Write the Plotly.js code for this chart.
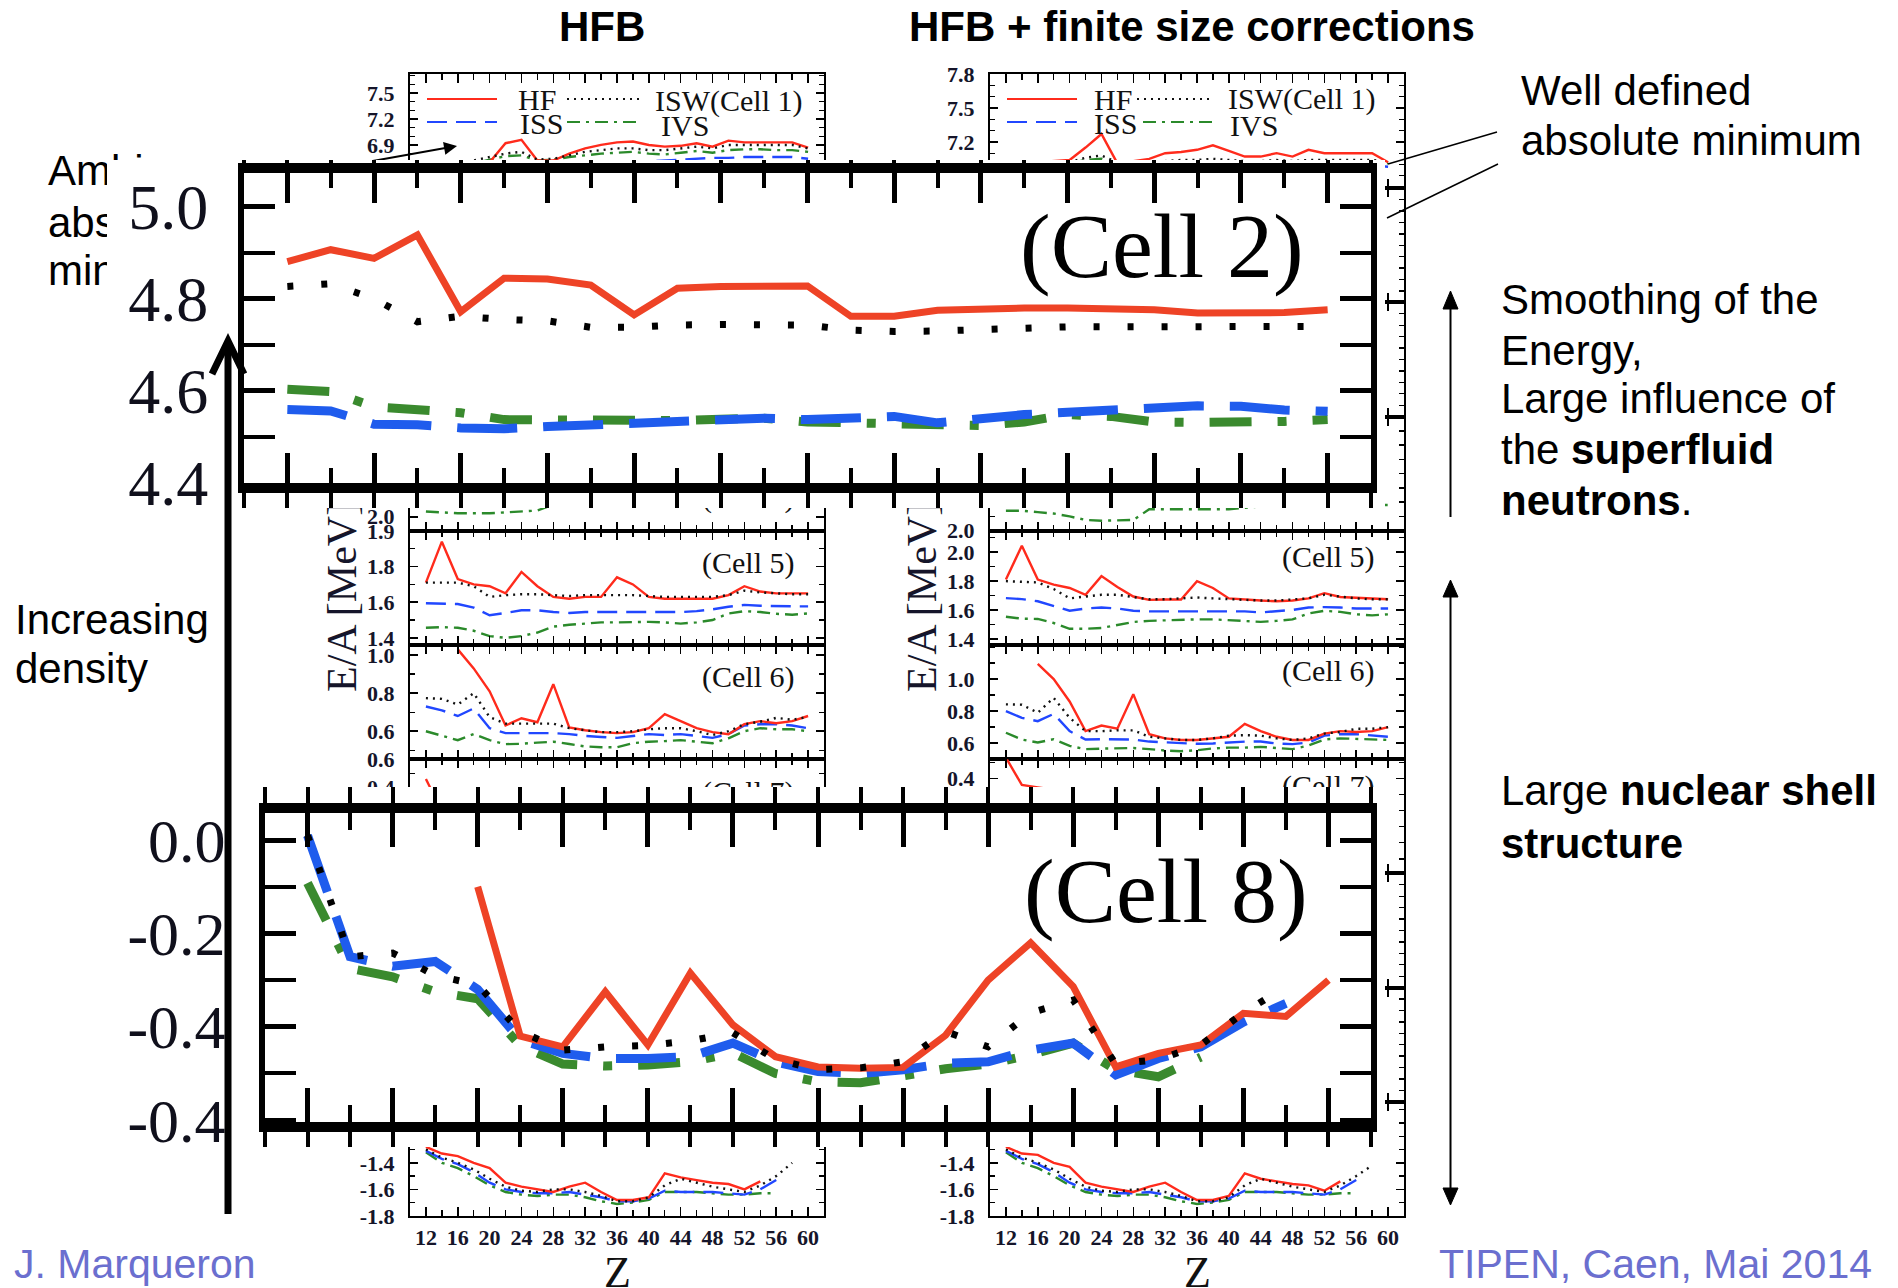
<!DOCTYPE html>
<html><head><meta charset="utf-8">
<script src="https://cdn.plot.ly/plotly-3.0.1.min.js"></script>
<style>
html,body{margin:0;padding:0;background:#fff;}
#stage{position:relative;width:1898px;height:1288px;overflow:hidden;background:#fff;}
.layer{position:absolute;}
</style></head><body>
<div id="stage">
 <div id="base" class="layer" style="left:0;top:0;width:1898px;height:1288px;z-index:1"></div>
 <div id="cell2" class="layer" style="left:107px;top:160px;width:1278px;height:348px;z-index:2"></div>
 <div id="cell8" class="layer" style="left:110px;top:787px;width:1275px;height:360px;z-index:3"></div>
 <div id="top" class="layer" style="left:0;top:0;width:1898px;height:1288px;z-index:4;pointer-events:none"></div>
</div>
<script>
// ---------------- DATA ----------------
const Z = [12,14,16,18,20,22,24,26,28,30,32,34,36,38,40,42,44,46,48,50,52,54,56,58,60];
const seriesNames = ['HF','ISW','ISS','IVS'];

// HFB column (left)
const hfbC1_HF  = [6.55,6.58,6.62,6.64,6.70,6.92,6.96,6.72,6.72,6.80,6.86,6.90,6.93,6.94,6.90,6.88,6.89,6.92,6.88,6.95,6.93,6.93,6.93,6.93,6.87];
const hfbC1_ISW = [6.62,6.65,6.68,6.72,6.76,6.80,6.82,6.73,6.74,6.78,6.82,6.84,6.86,6.86,6.84,6.84,6.86,6.88,6.86,6.90,6.90,6.90,6.90,6.90,6.86];
const hfbC1_ISS = [6.50,6.53,6.56,6.58,6.60,6.62,6.63,6.60,6.62,6.65,6.68,6.69,6.70,6.71,6.71,6.72,6.73,6.74,6.75,6.75,6.76,6.76,6.76,6.76,6.74];
const hfbC1_IVS = [6.58,6.62,6.65,6.68,6.73,6.77,6.78,6.72,6.73,6.76,6.78,6.80,6.81,6.82,6.80,6.79,6.81,6.83,6.81,6.84,6.85,6.85,6.84,6.84,6.82];

const hfbC2_HF  = [4.881,4.907,4.888,4.939,4.772,4.845,4.843,4.830,4.765,4.823,4.827,4.828,4.828,4.762,4.762,4.775,4.778,4.780,4.780,4.778,4.776,4.769,4.769,4.770,4.776];
const hfbC2_ISW = [4.827,4.833,4.800,4.750,4.762,4.755,4.752,4.738,4.738,4.743,4.744,4.745,4.743,4.732,4.729,4.730,4.733,4.737,4.739,4.739,4.739,4.738,4.738,4.739,4.740];
const hfbC2_ISS = [4.559,4.556,4.527,4.526,4.519,4.517,4.522,4.526,4.530,4.535,4.538,4.540,4.537,4.540,4.544,4.530,4.540,4.548,4.553,4.558,4.562,4.567,4.566,4.558,4.555];
const hfbC2_IVS = [4.603,4.598,4.565,4.560,4.552,4.537,4.536,4.534,4.532,4.535,4.538,4.540,4.532,4.530,4.530,4.528,4.524,4.532,4.548,4.544,4.532,4.531,4.531,4.533,4.537];

const hfbC4_IVS = [2.03,2.025,2.02,2.02,2.02,2.025,2.03,2.035,2.07,2.09,2.10,2.10,2.11,2.11,2.11,2.12,2.12,2.12,2.12,2.12,2.13,2.13,2.13,2.13,2.13];

const hfbC5_HF  = [1.71,1.94,1.73,1.70,1.69,1.65,1.77,1.69,1.63,1.62,1.63,1.63,1.74,1.70,1.63,1.62,1.62,1.62,1.62,1.64,1.69,1.66,1.65,1.65,1.65];
const hfbC5_ISW = [1.71,1.71,1.71,1.69,1.63,1.64,1.645,1.645,1.64,1.635,1.64,1.64,1.64,1.64,1.635,1.63,1.63,1.63,1.63,1.64,1.665,1.655,1.65,1.645,1.645];
const hfbC5_ISS = [1.594,1.594,1.59,1.57,1.527,1.54,1.555,1.555,1.545,1.54,1.545,1.545,1.545,1.545,1.545,1.545,1.545,1.55,1.56,1.575,1.585,1.58,1.577,1.577,1.577];
const hfbC5_IVS = [1.457,1.46,1.457,1.44,1.41,1.40,1.41,1.43,1.463,1.474,1.48,1.487,1.487,1.49,1.49,1.487,1.48,1.487,1.50,1.537,1.55,1.545,1.535,1.53,1.537];

const hfbC6_HF  = [null,null,1.03,0.93,0.81,0.63,0.668,0.647,0.847,0.62,0.605,0.595,0.59,0.595,0.616,0.69,0.653,0.616,0.595,0.584,0.637,0.653,0.642,0.653,0.68];
const hfbC6_ISW = [0.774,0.77,0.74,0.80,0.674,0.64,0.64,0.64,0.64,0.616,0.605,0.595,0.595,0.60,0.61,0.616,0.616,0.60,0.58,0.60,0.637,0.65,0.67,0.66,0.675];
const hfbC6_ISS = [0.73,0.71,0.68,0.72,0.616,0.59,0.59,0.59,0.59,0.585,0.575,0.57,0.565,0.575,0.585,0.58,0.585,0.575,0.565,0.585,0.63,0.637,0.637,0.63,0.616];
const hfbC6_IVS = [0.60,0.575,0.553,0.585,0.553,0.532,0.534,0.54,0.545,0.533,0.52,0.516,0.516,0.537,0.545,0.548,0.553,0.545,0.537,0.563,0.60,0.616,0.61,0.61,0.60];

const hfbC7_HF  = [0.46,0.23,null,null,null,null,null,null,null,null,null,null,null,null,null,null,null,null,null,null,null,null,null,null,null];

const hfbC8_HF  = [null,null,null,null,-0.10,-0.42,-0.443,-0.325,-0.439,-0.285,-0.396,-0.464,-0.486,-0.489,-0.487,-0.418,-0.30,-0.22,-0.314,-0.486,-0.457,-0.439,-0.371,-0.378,-0.30];
const hfbC8_ISW = [0.01,-0.25,-0.242,-0.29,-0.31,-0.41,-0.45,-0.443,-0.44,-0.43,-0.413,-0.47,-0.492,-0.488,-0.475,-0.41,-0.443,-0.37,-0.343,-0.48,-0.47,-0.439,-0.37,-0.314,null];
const hfbC8_ISS = [0.01,-0.25,-0.27,-0.26,-0.32,-0.428,-0.457,-0.468,-0.468,-0.464,-0.435,-0.475,-0.496,-0.50,-0.492,-0.478,-0.475,-0.45,-0.435,-0.503,-0.468,-0.443,-0.39,-0.35,null];
const hfbC8_IVS = [-0.092,-0.275,-0.293,-0.325,-0.34,-0.44,-0.48,-0.484,-0.482,-0.475,-0.456,-0.50,-0.518,-0.52,-0.505,-0.49,-0.48,-0.46,-0.435,-0.492,-0.507,-0.465,null,null,null];

const hfbC10_HF  = [-1.28,-1.33,-1.35,-1.40,-1.44,-1.55,-1.58,-1.60,-1.62,-1.58,-1.55,-1.62,-1.68,-1.68,-1.66,-1.48,-1.51,-1.53,-1.55,-1.56,-1.60,-1.54,null,null,null];
const hfbC10_ISW = [-1.30,-1.36,-1.40,-1.45,-1.52,-1.58,-1.61,-1.62,-1.60,-1.60,-1.62,-1.65,-1.69,-1.69,-1.66,-1.57,-1.52,-1.55,-1.58,-1.60,-1.62,-1.57,-1.50,-1.40,null];
const hfbC10_ISS = [-1.31,-1.37,-1.41,-1.47,-1.55,-1.60,-1.62,-1.63,-1.63,-1.62,-1.64,-1.66,-1.69,-1.69,-1.67,-1.61,-1.62,-1.62,-1.62,-1.63,-1.64,-1.60,-1.53,null,null];
const hfbC10_IVS = [-1.32,-1.40,-1.44,-1.50,-1.57,-1.62,-1.64,-1.65,-1.64,-1.64,-1.66,-1.69,-1.71,-1.70,-1.68,-1.62,-1.62,-1.62,-1.63,-1.64,-1.64,-1.63,-1.63,null,null];

// HFB + finite size corrections column (right)
const fscC1_HF  = [7.00,7.01,7.02,7.03,7.04,7.15,7.27,7.01,7.03,7.05,7.10,7.11,7.13,7.17,7.12,7.07,7.07,7.10,7.07,7.13,7.10,7.10,7.10,7.10,7.02];
const fscC1_ISW = [6.98,6.99,7.00,7.01,7.02,7.06,7.08,7.02,7.01,7.02,7.03,7.04,7.04,7.05,7.04,7.03,7.03,7.04,7.03,7.04,7.04,7.04,7.04,7.04,7.02];
const fscC1_ISS = [6.93,6.94,6.95,6.95,6.96,6.97,6.98,6.95,6.95,6.96,6.97,6.97,6.98,6.98,6.98,6.98,6.98,6.99,6.99,6.99,6.99,6.99,6.99,6.99,6.98];
const fscC1_IVS = [6.97,6.98,6.99,7.00,7.01,7.04,7.05,7.00,7.00,7.01,7.02,7.02,7.03,7.03,7.02,7.02,7.02,7.03,7.02,7.03,7.03,7.03,7.03,7.03,7.01];

const fscC4_IVS = [2.14,2.14,2.13,2.12,2.10,2.075,2.07,2.07,2.075,2.15,2.15,2.15,2.15,2.15,2.15,2.16,2.17,2.17,2.17,2.17,2.18,2.18,2.18,2.18,2.18];

const fscC5_HF  = [1.81,2.044,1.81,1.775,1.752,1.705,1.834,1.758,1.693,1.67,1.672,1.672,1.799,1.752,1.68,1.67,1.665,1.66,1.665,1.68,1.716,1.69,1.686,1.68,1.674];
const fscC5_ISW = [1.799,1.795,1.79,1.745,1.68,1.693,1.705,1.705,1.69,1.674,1.674,1.68,1.686,1.68,1.674,1.67,1.665,1.665,1.67,1.68,1.705,1.69,1.68,1.674,1.674];
const fscC5_ISS = [1.682,1.675,1.66,1.63,1.595,1.61,1.617,1.61,1.595,1.59,1.59,1.595,1.595,1.595,1.59,1.59,1.583,1.59,1.60,1.617,1.62,1.617,1.61,1.61,1.61];
const fscC5_IVS = [1.553,1.54,1.538,1.51,1.47,1.47,1.476,1.494,1.517,1.525,1.53,1.535,1.535,1.535,1.53,1.525,1.518,1.525,1.535,1.576,1.594,1.587,1.57,1.563,1.57];

const fscC6_HF  = [null,null,1.094,1.0,0.86,0.675,0.71,0.69,0.906,0.656,0.63,0.62,0.62,0.63,0.64,0.72,0.675,0.64,0.62,0.62,0.66,0.675,0.67,0.675,0.70];
const fscC6_ISW = [0.842,0.84,0.79,0.883,0.758,0.675,0.675,0.68,0.68,0.64,0.63,0.62,0.62,0.63,0.647,0.65,0.647,0.63,0.62,0.63,0.66,0.67,0.69,0.69,0.70];
const fscC6_ISS = [0.80,0.758,0.737,0.783,0.675,0.623,0.625,0.625,0.623,0.61,0.606,0.598,0.596,0.598,0.604,0.61,0.61,0.598,0.594,0.604,0.647,0.656,0.656,0.647,0.64];
const fscC6_IVS = [0.665,0.623,0.604,0.625,0.583,0.563,0.566,0.57,0.57,0.563,0.554,0.55,0.556,0.567,0.572,0.572,0.577,0.57,0.563,0.585,0.623,0.63,0.627,0.627,0.62];

const fscC7_HF  = [0.53,0.36,0.345,0.33,null,null,null,null,null,null,null,null,null,null,null,null,null,null,null,null,null,null,null,null,null];

const fscC10_HF  = [-1.28,-1.33,-1.34,-1.40,-1.43,-1.55,-1.58,-1.60,-1.62,-1.58,-1.55,-1.62,-1.68,-1.68,-1.65,-1.48,-1.52,-1.54,-1.56,-1.57,-1.61,-1.54,null,null,null];
const fscC10_ISW = [-1.30,-1.36,-1.40,-1.45,-1.52,-1.58,-1.61,-1.62,-1.60,-1.60,-1.62,-1.65,-1.69,-1.69,-1.66,-1.57,-1.52,-1.55,-1.58,-1.60,-1.62,-1.57,-1.50,-1.42,null];
const fscC10_ISS = [-1.31,-1.37,-1.41,-1.47,-1.55,-1.60,-1.62,-1.63,-1.63,-1.62,-1.64,-1.66,-1.69,-1.69,-1.67,-1.61,-1.62,-1.62,-1.62,-1.63,-1.64,-1.60,-1.53,null,null];
const fscC10_IVS = [-1.32,-1.40,-1.44,-1.50,-1.57,-1.62,-1.64,-1.65,-1.64,-1.64,-1.66,-1.69,-1.71,-1.70,-1.68,-1.62,-1.62,-1.62,-1.63,-1.64,-1.64,-1.63,-1.63,null,null];

// tick labels
const zTickVals = [12,16,20,24,28,32,36,40,44,48,52,56,60];
const hfbC1Ticks = [6.9,7.2,7.5],      hfbC1TickText = ['6.9','7.2','7.5'];
const hfbC4Ticks = [2.0],              hfbC4TickText = ['2.0'];
const hfbC5Ticks = [1.4,1.6,1.8,2.0],  hfbC5TickText = ['1.4','1.6','1.8','1.9'];
const hfbC6Ticks = [0.6,0.8,1.0],      hfbC6TickText = ['0.6','0.8','1.0'];
const hfbC7Ticks = [0.4,0.6],          hfbC7TickText = ['0.4','0.6'];
const fscC1Ticks = [7.2,7.5,7.8],      fscC1TickText = ['7.2','7.5','7.8'];
const fscC4Ticks = [2.0],              fscC4TickText = ['2.0'];
const fscC5Ticks = [1.4,1.6,1.8,2.0],  fscC5TickText = ['1.4','1.6','1.8','2.0'];
const fscC6Ticks = [0.6,0.8,1.0],      fscC6TickText = ['0.6','0.8','1.0'];
const fscC7Ticks = [0.4],              fscC7TickText = ['0.4'];
const c10Ticks = [-1.8,-1.6,-1.4],     c10TickText = ['-1.8','-1.6','-1.4'];
const cell2Ticks = [4.4,4.6,4.8,5.0],  cell2TickText = ['4.4','4.6','4.8','5.0'];
const cell8Ticks = [0,-0.2,-0.4,-0.6], cell8TickText = ['0.0','-0.2','-0.4','-0.4'];
const xTitle = 'Z';

// ---------------- LAYOUT HELPERS ----------------
const W = 1898, H = 1288;
const px = v => v / W, py = v => 1 - v / H;
const SANS = 'Liberation Sans, Arial, Helvetica, sans-serif';
const SERIF = 'Liberation Serif, Times New Roman, Times, serif';
const BLUE_TXT = '#6b6fcf';
const axId = n => (n === 1 ? '' : String(n));

const smallStyle = {
  HF:  {color:'#ff2b1c', width:2.4, dash:'solid'},
  ISW: {color:'#111111', width:2.4, dash:'2px,5px'},
  ISS: {color:'#2147ff', width:2.4, dash:'20px,9px'},
  IVS: {color:'#2b8a2b', width:2.4, dash:'13px,6px,3px,6px'}
};
const bigStyle = {
  HF:  {color:'#ee4326', width:7, dash:'solid'},
  ISW: {color:'#000000', width:7, dash:'6px,28px'},
  ISS: {color:'#1f5ced', width:9, dash:'60px,26px'},
  IVS: {color:'#3a8a2e', width:9, dash:'42px,26px,9px,26px'}
};
const drawOrder = ['IVS','ISS','HF','ISW'];

const PANEL_TOP = 74, PANEL_H = 114.2;
const columns = [
  {x0:410, x1:824, offset:0,
   cells:{
     1:{range:[6.40,7.72], vals:hfbC1Ticks, text:hfbC1TickText, s:{HF:hfbC1_HF,ISW:hfbC1_ISW,ISS:hfbC1_ISS,IVS:hfbC1_IVS}},
     4:{range:[1.92,2.57], vals:hfbC4Ticks, text:hfbC4TickText, s:{IVS:hfbC4_IVS}},
     5:{range:[1.36,2.001], vals:hfbC5Ticks, text:hfbC5TickText, s:{HF:hfbC5_HF,ISW:hfbC5_ISW,ISS:hfbC5_ISS,IVS:hfbC5_IVS}},
     6:{range:[0.453,1.053], vals:hfbC6Ticks, text:hfbC6TickText, s:{HF:hfbC6_HF,ISW:hfbC6_ISW,ISS:hfbC6_ISS,IVS:hfbC6_IVS}},
     7:{range:[-0.214,0.601], vals:hfbC7Ticks, text:hfbC7TickText, s:{HF:hfbC7_HF}},
     10:{range:[-1.801,-0.94], vals:c10Ticks, text:c10TickText, s:{HF:hfbC10_HF,ISW:hfbC10_ISW,ISS:hfbC10_ISS,IVS:hfbC10_IVS}}
   }},
  {x0:990, x1:1404, offset:10,
   cells:{
     1:{range:[6.79,7.801], vals:fscC1Ticks, text:fscC1TickText, s:{HF:fscC1_HF,ISW:fscC1_ISW,ISS:fscC1_ISS,IVS:fscC1_IVS}},
     4:{range:[1.999,2.8], vals:fscC4Ticks, text:fscC4TickText, s:{IVS:fscC4_IVS}},
     5:{range:[1.358,2.147], vals:fscC5Ticks, text:fscC5TickText, s:{HF:fscC5_HF,ISW:fscC5_ISW,ISS:fscC5_ISS,IVS:fscC5_IVS}},
     6:{range:[0.5,1.2125], vals:fscC6Ticks, text:fscC6TickText, s:{HF:fscC6_HF,ISW:fscC6_ISW,ISS:fscC6_ISS,IVS:fscC6_IVS}},
     7:{range:[-0.19,0.52], vals:fscC7Ticks, text:fscC7TickText, s:{HF:fscC7_HF}},
     10:{range:[-1.801,-0.94], vals:c10Ticks, text:c10TickText, s:{HF:fscC10_HF,ISW:fscC10_ISW,ISS:fscC10_ISS,IVS:fscC10_IVS}}
   }}
];

const tickFontSmall = {family:SERIF, size:22, color:'#15152a', weight:'bold'};

// ---------------- BASE FIGURE ----------------
const baseTraces = [];
const baseLayout = {
  width:W, height:H, margin:{l:0,r:0,t:0,b:0,pad:0},
  paper_bgcolor:'#ffffff', plot_bgcolor:'rgba(0,0,0,0)',
  showlegend:false, hovermode:false, annotations:[], shapes:[]
};

columns.forEach(col => {
  for (let cell = 1; cell <= 10; cell++) {
    const n = col.offset + cell;
    const id = axId(n);
    const top = PANEL_TOP + (cell - 1) * PANEL_H, bot = top + PANEL_H;
    const cfg = col.cells[cell] || {range:[0,1], vals:[], text:[], s:{}};
    baseLayout['xaxis' + id] = {
      domain:[px(col.x0), px(col.x1)], anchor:'y' + id, range:[10,62],
      tickmode:'array', tickvals:zTickVals, ticktext:zTickVals.map(String),
      ticks:'inside', ticklen:9, tickwidth:1.6, tickcolor:'#000',
      minor:{tickmode:'linear', tick0:12, dtick:2, ticks:'inside', ticklen:6, tickwidth:1.4, tickcolor:'#000'},
      showline:true, linecolor:'#000', linewidth:2, mirror:'allticks',
      showgrid:false, zeroline:false, fixedrange:true,
      showticklabels: cell === 10, tickfont:tickFontSmall, ticklabelstandoff:1,
      ticklabeloverflow:'allow', title:{text:''}
    };
    baseLayout['yaxis' + id] = {
      domain:[py(bot), py(top)], anchor:'x' + id, range:cfg.range,
      tickmode:'array', tickvals:cfg.vals, ticktext:cfg.text,
      ticks:'inside', ticklen:8, tickwidth:1.6, tickcolor:'#000',
      minor:{tickmode:'linear', tick0:0, dtick:0.1, ticks:'inside', ticklen:5, tickwidth:1.3, tickcolor:'#000'},
      showline:true, linecolor:'#000', linewidth:2, mirror:'allticks',
      showgrid:false, zeroline:false, fixedrange:true, ticklabeloverflow:'allow',
      tickfont:tickFontSmall, ticklabelstandoff:9
    };
    const xa = 'x' + id, ya = 'y' + id;
    let any = false;
    drawOrder.forEach(k => {
      if (!cfg.s[k]) return;
      any = true;
      const st = smallStyle[k];
      baseTraces.push({type:'scatter', mode:'lines', name:k, x:Z, y:cfg.s[k], xaxis:xa, yaxis:ya,
        line:{color:st.color, width:st.width, dash:st.dash}, hoverinfo:'skip', showlegend:false});
    });
    if (!any) baseTraces.push({type:'scatter', mode:'lines', x:[], y:[], xaxis:xa, yaxis:ya, hoverinfo:'skip', showlegend:false});
  }
});

function txt(x, y, text, opts) {
  const o = Object.assign({font:{}}, opts || {});
  return {xref:'paper', yref:'paper', x:px(x), y:py(y), text:text, showarrow:false,
    xanchor:o.xanchor || 'left', yanchor:'middle', textangle:o.textangle || 0,
    font:Object.assign({family:SANS, size:42, color:'#000'}, o.font)};
}
const A = baseLayout.annotations;
A.push(txt(602, 27, '<b>HFB</b>', {xanchor:'center', font:{size:42}}));
A.push(txt(1192, 27, '<b>HFB + finite size corrections</b>', {xanchor:'center', font:{size:42}}));
A.push(txt(1519, 91, 'Well defined'));
A.push(txt(1519, 140, 'absolute minimum'));
A.push(txt(1499, 299, 'Smoothing of the'));
A.push(txt(1499, 350, 'Energy,'));
A.push(txt(1499, 399, 'Large influence of'));
A.push(txt(1499, 450, 'the <b>superfluid</b>'));
A.push(txt(1499, 500, '<b>neutrons</b>.'));
A.push(txt(1499, 791, 'Large <b>nuclear shell</b>'));
A.push(txt(1499, 843, '<b>structure</b>'));
A.push(txt(13, 619, 'Increasing'));
A.push(txt(13, 668, 'density'));
A.push(txt(46, 170, 'Ambiguous'));
A.push(txt(46, 222, 'absolute'));
A.push(txt(46, 271, 'minimum'));
A.push(txt(12, 1264, 'J. Marqueron', {font:{color:BLUE_TXT, size:41}}));
A.push(txt(1874, 1264, 'TIPEN, Caen, Mai 2014', {xanchor:'right', font:{color:BLUE_TXT, size:41}}));
A.push(txt(342, 597, 'E/A [MeV]', {xanchor:'center', textangle:-90, font:{family:SERIF, size:42, color:'#15152a'}}));
A.push(txt(922, 597, 'E/A [MeV]', {xanchor:'center', textangle:-90, font:{family:SERIF, size:42, color:'#15152a'}}));
// axis titles "Z" below the bottom panels
A.push(txt(617, 1272, xTitle, {xanchor:'center', font:{family:SERIF, size:44, color:'#111'}}));
A.push(txt(1197, 1272, xTitle, {xanchor:'center', font:{family:SERIF, size:44, color:'#111'}}));
// cell labels of the small panels
const cellLabFont = {family:SERIF, size:30, color:'#111'};
[[748,497,'(Cell 4)'],[748,563,'(Cell 5)'],[748,677,'(Cell 6)'],[748,792,'(Cell 7)'],
 [1328,557,'(Cell 5)'],[1328,671,'(Cell 6)'],[1328,786,'(Cell 7)']].forEach(c =>
  A.push(txt(c[0], c[1], c[2], {xanchor:'center', font:cellLabFont})));
// Cell 1 legends
const legFont = {family:SERIF, size:30, color:'#111'};
[[516,100,'HF'],[653,101,'ISW(Cell 1)'],[518,123,'ISS'],[659,125,'IVS'],
 [1092,100,'HF'],[1226,99,'ISW(Cell 1)'],[1092,123,'ISS'],[1228,125,'IVS']].forEach(c =>
  A.push(txt(c[0], c[1], c[2], {font:legFont})));
// ambiguous arrow
A.push({xref:'paper', yref:'paper', x:px(457), y:py(146), ax:-207, ay:37, text:'', showarrow:true,
  arrowhead:2, arrowsize:1.3, arrowwidth:2, arrowcolor:'#000'});

function seg(x0, y0, x1, y1, st) {
  return {type:'line', xref:'paper', yref:'paper', x0:px(x0), y0:py(y0), x1:px(x1), y1:py(y1),
    line:{color:st.color, width:2.2, dash:st.dash}, layer:'above'};
}
[[427,497,99,'HF'],[567,642,99,'ISW'],[427,497,122,'ISS'],[567,640,122,'IVS'],
 [1007,1077,99,'HF'],[1137,1210,99,'ISW'],[1007,1077,122,'ISS'],[1143,1213,122,'IVS']].forEach(l =>
  baseLayout.shapes.push(seg(l[0], l[2], l[1], l[2], smallStyle[l[3]])));

// ---------------- BIG PANELS ----------------
function bigTraces(series) {
  const out = [];
  drawOrder.forEach(k => {
    const st = bigStyle[k];
    out.push({type:'scatter', mode:'lines', name:k, x:Z, y:series[k], xaxis:'x', yaxis:'y',
      line:{color:st.color, width:st.width, dash:st.dash}, hoverinfo:'skip', showlegend:false});
  });
  out.push({type:'scatter', mode:'lines', x:[], y:[], xaxis:'x2', yaxis:'y', hoverinfo:'skip', showlegend:false});
  return out;
}
function bigLayout(o) {
  return {
    width:o.w, height:o.h, margin:o.m, paper_bgcolor:'#ffffff', plot_bgcolor:'#ffffff',
    showlegend:false, hovermode:false,
    xaxis:{range:[10,62], tickmode:'linear', tick0:12, dtick:4, ticks:'inside', ticklen:o.xin, tickwidth:5, tickcolor:'#000',
      minor:{tickmode:'linear', tick0:12, dtick:2, ticks:'inside', ticklen:Math.round(o.xin/2), tickwidth:4, tickcolor:'#000'},
      showline:true, linewidth:10, linecolor:'#000', mirror:'allticks', showticklabels:false,
      showgrid:false, zeroline:false, fixedrange:true},
    xaxis2:{overlaying:'x', anchor:'y', range:[10,62], tickmode:'linear', tick0:10, dtick:2, ticks:'outside',
      ticklen:o.xout, tickwidth:4, tickcolor:'#000', mirror:'allticks', showline:false, showticklabels:false,
      showgrid:false, zeroline:false, fixedrange:true},
    yaxis:{range:o.yr, tickmode:'array', tickvals:o.tv, ticktext:o.tt, ticks:'inside', ticklen:31, tickwidth:5, tickcolor:'#000',
      minor:{tickmode:'linear', tick0:0, dtick:0.1, ticks:'inside', ticklen:16, tickwidth:4, tickcolor:'#000'},
      showline:true, linewidth:6, linecolor:'#000', mirror:'allticks', ticklabeloverflow:'allow',
      tickfont:{family:SERIF, size:o.fs, color:'#10101c'}, ticklabelstandoff:o.so,
      showgrid:false, zeroline:false, fixedrange:true},
    annotations:[{xref:'paper', yref:'paper', x:o.lx, y:o.ly, text:o.label, showarrow:false,
      xanchor:'center', yanchor:'middle', font:{family:SERIF, size:92, color:'#000'}}]
  };
}
const cell2Layout = bigLayout({w:1278, h:348, m:{l:137,r:14,t:13,b:25,pad:0}, xin:30, xout:30,
  yr:[4.399,5.074], tv:cell2Ticks, tt:cell2TickText, fs:64, so:17, lx:0.8146, ly:0.765, label:'(Cell 2)'});
const cell8Layout = bigLayout({w:1275, h:360, m:{l:155,r:14,t:26,b:25,pad:0}, xin:34, xout:30,
  yr:[-0.604,0.058], tv:cell8Ticks, tt:cell8TickText, fs:62, so:21, lx:0.8146, ly:0.748, label:'(Cell 8)'});

// ---------------- TOP OVERLAY (arrows) ----------------
const P = (x, y) => px(x) + ',' + py(y);
const topLayout = {
  width:W, height:H, margin:{l:0,r:0,t:0,b:0,pad:0}, paper_bgcolor:'rgba(0,0,0,0)', plot_bgcolor:'rgba(0,0,0,0)',
  xaxis:{visible:false, range:[0,1]}, yaxis:{visible:false, range:[0,1]}, showlegend:false, hovermode:false,
  shapes:[
    {type:'line', xref:'paper', yref:'paper', x0:px(228), y0:py(1214), x1:px(228), y1:py(344), line:{color:'#000', width:7}},
    {type:'path', xref:'paper', yref:'paper', path:'M' + P(212,374) + ' L' + P(228,341) + ' L' + P(244,374), line:{color:'#000', width:7}},
    {type:'line', xref:'paper', yref:'paper', x0:px(1450.5), y0:py(517), x1:px(1450.5), y1:py(306), line:{color:'#000', width:2}},
    {type:'path', xref:'paper', yref:'paper', path:'M' + P(1443,309) + ' L' + P(1450.5,291) + ' L' + P(1458,309) + ' Z', fillcolor:'#000', line:{color:'#000', width:1}},
    {type:'line', xref:'paper', yref:'paper', x0:px(1450.5), y0:py(594), x1:px(1450.5), y1:py(1191), line:{color:'#000', width:2}},
    {type:'path', xref:'paper', yref:'paper', path:'M' + P(1443,597) + ' L' + P(1450.5,580) + ' L' + P(1458,597) + ' Z', fillcolor:'#000', line:{color:'#000', width:1}},
    {type:'path', xref:'paper', yref:'paper', path:'M' + P(1443,1188) + ' L' + P(1450.5,1205) + ' L' + P(1458,1188) + ' Z', fillcolor:'#000', line:{color:'#000', width:1}},
    {type:'line', xref:'paper', yref:'paper', x0:px(1497), y0:py(132), x1:px(1388), y1:py(164), line:{color:'#000', width:1.5}},
    {type:'line', xref:'paper', yref:'paper', x0:px(1498), y0:py(164), x1:px(1387), y1:py(218), line:{color:'#000', width:1.5}}
  ]
};

const cfg = {displayModeBar:false, staticPlot:true};
Plotly.newPlot('base', baseTraces, baseLayout, cfg);
Plotly.newPlot('cell2', bigTraces({HF:hfbC2_HF, ISW:hfbC2_ISW, ISS:hfbC2_ISS, IVS:hfbC2_IVS}), cell2Layout, cfg);
Plotly.newPlot('cell8', bigTraces({HF:hfbC8_HF, ISW:hfbC8_ISW, ISS:hfbC8_ISS, IVS:hfbC8_IVS}), cell8Layout, cfg);
Plotly.newPlot('top', [], topLayout, cfg);
</script>
</body></html>
